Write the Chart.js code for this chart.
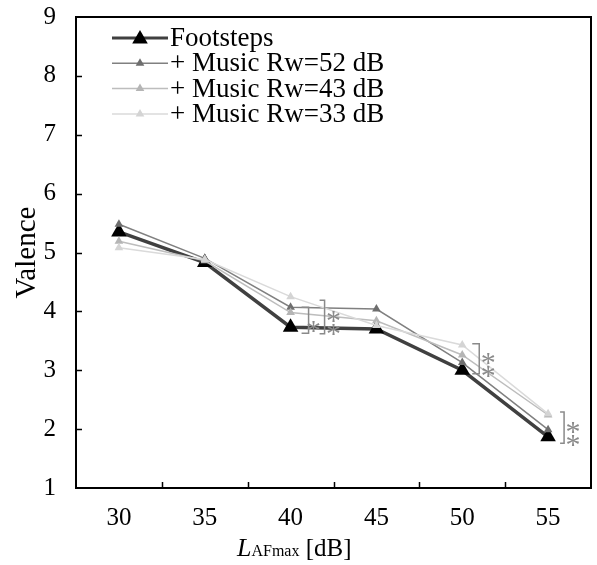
<!DOCTYPE html>
<html lang="en">
<head>
  <meta charset="UTF-8" />
  <title>Valence vs LAFmax</title>
  <script src="https://cdn.jsdelivr.net/npm/chart.js"></script>
  <style>
    body { margin: 0; background: #fff; }
    #wrap { width: 597px; height: 565px; position: relative; }
  </style>
</head>
<body>
  <div id="wrap"><canvas id="chart"></canvas></div>
  <script>
    // data
    const categories = ['30', '35', '40', '45', '50', '55'];
    const seriesNames = ['Footsteps', '+ Music Rw=52 dB', '+ Music Rw=43 dB', '+ Music Rw=33 dB'];
    const footsteps = [5.35, 4.83, 3.73, 3.70, 3.00, 1.87];
    const rw52 = [5.48, 4.90, 4.07, 4.04, 3.13, 1.99];
    const rw43 = [5.19, 4.86, 3.98, 3.84, 3.26, 2.24];
    const rw33 = [5.08, 4.88, 4.25, 3.76, 3.43, 2.26];
    const yTicks = [1, 2, 3, 4, 5, 6, 7, 8, 9];

    // significance brackets (category, value range, number of stars)
    const sigCats = ['40', '40', '50', '55'];
    const sigLow = [3.63, 3.62, 2.94, 1.76];
    const sigHigh = [4.07, 4.19, 3.45, 2.29];
    const sigStars = [1, 2, 2, 2];
    const sigDx = [18, 34, 17, 16];   // px right of category centre
    const sigArm = [7, 5, 7, 4];

    const SERIF = '"Liberation Serif", "Times New Roman", serif';
    const lineColors = ['#404040', '#808080', '#bdbdbd', '#dadada'];
    const pointColors = ['#000000', '#6e6e6e', '#b5b5b5', '#d4d4d4'];
    const lineWidths = [3.5, 1.5, 1.5, 1.5];
    const pointRadii = [9, 5, 5, 5];

    function tri(ctx, x, y, r, color) {
      // same shape as Chart.js 'triangle'
      ctx.beginPath();
      ctx.moveTo(x, y - r);
      ctx.lineTo(x - r * 0.866, y + r * 0.5);
      ctx.lineTo(x + r * 0.866, y + r * 0.5);
      ctx.closePath();
      ctx.fillStyle = color;
      ctx.fill();
    }

    const decorPlugin = {
      id: 'decor',
      afterDraw(chart) {
        const { ctx, chartArea: a, scales: { x, y } } = chart;
        ctx.save();

        // frame
        ctx.strokeStyle = '#000';
        ctx.lineWidth = 2;
        ctx.strokeRect(a.left, a.top, a.right - a.left, a.bottom - a.top);

        // inward ticks
        ctx.lineWidth = 1.5;
        ctx.beginPath();
        yTicks.slice(1, -1).forEach(v => {
          const py = Math.round(y.getPixelForValue(v)) + 0.5;
          ctx.moveTo(a.left, py);
          ctx.lineTo(a.left + 6, py);
        });
        const step = (a.right - a.left) / categories.length;
        for (let i = 1; i < categories.length; i++) {
          const px = Math.round(a.left + i * step) + 0.5;
          ctx.moveTo(px, a.bottom);
          ctx.lineTo(px, a.bottom - 6);
        }
        ctx.stroke();

        // significance brackets
        ctx.strokeStyle = '#8a8a8a';
        ctx.fillStyle = '#8a8a8a';
        ctx.lineWidth = 1.5;
        ctx.font = '30px ' + SERIF;
        ctx.textAlign = 'center';
        ctx.textBaseline = 'alphabetic';
        sigCats.forEach((c, i) => {
          const bx = x.getPixelForValue(categories.indexOf(c)) + sigDx[i];
          const y1 = y.getPixelForValue(sigHigh[i]);
          const y2 = y.getPixelForValue(sigLow[i]);
          ctx.beginPath();
          ctx.moveTo(bx - sigArm[i], y1);
          ctx.lineTo(bx, y1);
          ctx.lineTo(bx, y2);
          ctx.lineTo(bx - sigArm[i], y2);
          ctx.stroke();
          const mid = (y1 + y2) / 2;
          const sx = bx + 9;
          const off = 18;
          if (sigStars[i] === 1) {
            ctx.fillText('*', sx - 4, mid + 2 + off);
          } else {
            ctx.fillText('*', sx, mid - 5 + off);
            ctx.fillText('*', sx, mid + 8 + off);
          }
        });

        // legend
        ctx.font = '27px ' + SERIF;
        ctx.textAlign = 'left';
        ctx.textBaseline = 'middle';
        seriesNames.forEach((name, i) => {
          const ly = a.top + 21 + i * 25.3;
          ctx.strokeStyle = lineColors[i];
          ctx.lineWidth = i === 0 ? 3 : 1.5;
          ctx.beginPath();
          ctx.moveTo(112, ly);
          ctx.lineTo(168, ly);
          ctx.stroke();
          tri(ctx, 140, ly + (i === 0 ? 1 : 0), i === 0 ? 9 : 5, pointColors[i]);
          ctx.fillStyle = '#000';
          ctx.fillText(name, 170, ly + 1);
        });

        // x axis title: L(italic) AFmax [dB]
        const ty = 556;
        let tx = 237;
        ctx.textBaseline = 'alphabetic';
        ctx.fillStyle = '#000';
        ctx.font = 'italic 26px ' + SERIF;
        ctx.fillText('L', tx, ty);
        tx += ctx.measureText('L').width;
        ctx.font = '16px ' + SERIF;
        ctx.fillText('AFmax', tx, ty);
        tx += ctx.measureText('AFmax').width;
        ctx.font = '25px ' + SERIF;
        ctx.fillText(' [dB]', tx, ty);

        ctx.restore();
      }
    };

    const allSeries = [footsteps, rw52, rw43, rw33];
    const datasets = allSeries.map((d, i) => ({
      label: seriesNames[i],
      data: d,
      borderColor: lineColors[i],
      borderWidth: lineWidths[i],
      pointStyle: 'triangle',
      pointRadius: pointRadii[i],
      pointBackgroundColor: pointColors[i],
      pointBorderColor: pointColors[i],
      pointBorderWidth: 0,
      tension: 0,
      order: 4 - i
    }));

    new Chart(document.getElementById('chart'), {
      type: 'line',
      data: { labels: categories, datasets },
      options: {
        responsive: true,
        maintainAspectRatio: false,
        animation: false,
        layout: { autoPadding: false, padding: { top: 17, right: 6, left: 0, bottom: 0 } },
        plugins: { legend: { display: false }, tooltip: { enabled: false } },
        scales: {
          x: {
            type: 'category',
            offset: true,
            grid: { display: false, drawTicks: false },
            border: { display: false },
            ticks: { color: '#000', font: { family: SERIF, size: 25 }, padding: 15, maxRotation: 0 },
            afterFit(s) { s.height = 77; s.paddingLeft = 0; s.paddingRight = 0; }
          },
          y: {
            min: 1, max: 9,
            grid: { display: false, drawTicks: false },
            border: { display: false },
            ticks: { stepSize: 1, color: '#000', font: { family: SERIF, size: 25 }, padding: 20 },
            title: { display: true, text: 'Valence', color: '#000', font: { family: SERIF, size: 29 }, padding: { top: 10, bottom: 0 } },
            afterFit(s) { s.width = 76; s.paddingTop = 0; s.paddingBottom = 0; }
          }
        }
      },
      plugins: [decorPlugin]
    });
  </script>
</body>
</html>
